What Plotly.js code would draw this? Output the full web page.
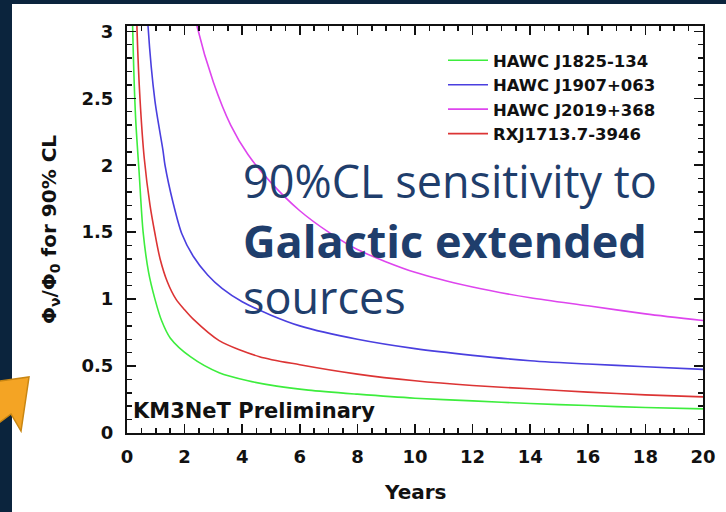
<!DOCTYPE html>
<html>
<head>
<meta charset="utf-8">
<script src="https://cdn.plot.ly/plotly-3.0.1.min.js"></script>
<style>
  html, body { margin: 0; padding: 0; background: #ffffff; }
  #chart { width: 726px; height: 512px; }
</style>
</head>
<body>
<div id="chart"></div>
<script>
// Sensitivity curves: Phi_nu / Phi_0 needed for a 90% CL detection vs. observation time
const yearsJ1825 = [0.15, 0.2, 0.3, 0.42, 0.56, 0.75, 0.97, 1.2, 1.5, 2.2, 3.2, 4.2, 5.2, 6.3, 8, 10, 12, 14, 16, 18, 20];
const fluxJ1825  = [3.8, 3.0, 2.35, 1.95, 1.5, 1.2, 1.0, 0.84, 0.71, 0.57, 0.45, 0.39, 0.35, 0.32, 0.29, 0.26, 0.24, 0.22, 0.205, 0.19, 0.18];

const yearsJ1907 = [0.62, 0.73, 0.97, 1.25, 1.32, 1.6, 1.9, 2.3, 2.8, 3.3, 4.0, 5, 6, 8, 10, 12, 14, 16, 18, 20];
const fluxJ1907  = [3.6, 3.04, 2.48, 2.11, 2.0, 1.72, 1.49, 1.32, 1.18, 1.08, 0.98, 0.88, 0.80, 0.70, 0.63, 0.58, 0.54, 0.515, 0.495, 0.475];

const yearsJ2019 = [2.2, 2.43, 3.0, 3.6, 4.2, 5.0, 6.0, 7.0, 8.0, 10, 12, 14, 16, 18, 20];
const fluxJ2019  = [3.3, 3.04, 2.62, 2.30, 2.08, 1.87, 1.66, 1.50, 1.37, 1.20, 1.09, 1.01, 0.95, 0.89, 0.84];

const yearsRXJ = [0.25, 0.35, 0.45, 0.6, 0.8, 0.97, 1.15, 1.4, 1.7, 2.0, 2.3, 3.2, 4.6, 6, 8, 10, 12, 14, 16, 18, 20];
const fluxRXJ  = [4.0, 3.0, 2.5, 2.05, 1.7, 1.49, 1.30, 1.13, 1.0, 0.92, 0.85, 0.69, 0.57, 0.51, 0.44, 0.39, 0.355, 0.33, 0.305, 0.285, 0.27];

const sourceNames = ["HAWC J1825-134", "HAWC J1907+063", "HAWC J2019+368", "RXJ1713.7-3946"];
const xTickVals = [0, 2, 4, 6, 8, 10, 12, 14, 16, 18, 20];
const xTickText = ["0", "2", "4", "6", "8", "10", "12", "14", "16", "18", "20"];
const yTickVals = [0, 0.5, 1, 1.5, 2, 2.5, 3];
const yTickText = ["0", "0.5", "1", "1.5", "2", "2.5", "3"];

const colors = ["#3ded3d", "#4a3fdf", "#de45ee", "#dc3434"];
const axisFont = { family: "DejaVu Sans", size: 18, color: "#111111", weight: "bold" };

function curve(x, y, name, color) {
  return { x: x, y: y, name: name, type: "scatter", mode: "lines",
           line: { color: color, width: 1.6, shape: "spline", smoothing: 0.8 } };
}

const traces = [
  curve(yearsJ1825, fluxJ1825, sourceNames[0], colors[0]),
  curve(yearsJ1907, fluxJ1907, sourceNames[1], colors[1]),
  curve(yearsJ2019, fluxJ2019, sourceNames[2], colors[2]),
  curve(yearsRXJ, fluxRXJ, sourceNames[3], colors[3])
];

// plot frame in pixels, used to place decorations in paper units
const L = 127, T = 26, W = 576, H = 407;
const px = v => (v - L) / W;
const py = v => (T + H - v) / H;

const navy = "#0b243d";
const arrowPts = [[-4, 381.5], [29, 377], [21, 431], [11, 414], [-4, 425]];
const arrowPath = "M" + arrowPts.map(p => px(p[0]).toFixed(4) + "," + py(p[1]).toFixed(4)).join("L") + "Z";

const textColor = "#1f3e6c";
const bigFont = { family: "Open Sans", size: 45, color: textColor };
const layout = {
  width: 726, height: 512,
  margin: { l: L, r: 726 - L - W, t: T, b: 512 - T - H },
  paper_bgcolor: "#ffffff", plot_bgcolor: "#ffffff",
  showlegend: true,
  legend: {
    x: px(443), y: py(43), xanchor: "left", yanchor: "top",
    bgcolor: "rgba(0,0,0,0)", borderwidth: 0,
    font: { family: "DejaVu Sans", size: 16.5, color: "#111111", weight: "bold" },
    itemwidth: 40, tracegroupgap: 0
  },
  xaxis: {
    range: [0, 20], tickvals: xTickVals, ticktext: xTickText,
    ticks: "inside", ticklen: 9, tickwidth: 1.5, tickcolor: "#111",
    minor: { dtick: 0.5, tick0: 0, ticks: "inside", ticklen: 5, tickwidth: 1.5, tickcolor: "#111" },
    showline: true, linewidth: 2, linecolor: "#111", mirror: "allticks",
    showgrid: false, zeroline: false, tickfont: axisFont, ticklabelstandoff: 6
  },
  yaxis: {
    range: [0, 3.04], tickvals: yTickVals, ticktext: yTickText,
    ticks: "inside", ticklen: 9, tickwidth: 1.5, tickcolor: "#111",
    minor: { dtick: 0.1, tick0: 0, ticks: "inside", ticklen: 5, tickwidth: 1.5, tickcolor: "#111" },
    showline: true, linewidth: 2, linecolor: "#111", mirror: "allticks",
    showgrid: false, zeroline: false, tickfont: axisFont, ticklabelstandoff: 8
  },
  shapes: [
    { type: "rect", xref: "paper", yref: "paper", x0: px(-4), x1: px(12), y0: py(516), y1: py(-4),
      fillcolor: navy, line: { width: 0 }, layer: "above" },
    { type: "rect", xref: "paper", yref: "paper", x0: px(-4), x1: px(730), y0: py(4), y1: py(-4),
      fillcolor: navy, line: { width: 0 }, layer: "above" },
    { type: "path", xref: "paper", yref: "paper", path: arrowPath,
      fillcolor: "#f4a424", line: { color: "#c98612", width: 1.5 }, layer: "above" }
  ],
  annotations: [
    { text: "Years", xref: "paper", yref: "paper", x: px(415), y: py(492),
      xanchor: "center", yanchor: "middle", showarrow: false,
      font: { family: "DejaVu Sans", size: 20, color: "#111", weight: "bold" } },
    { text: "Φ<sub>ν</sub>/Φ<sub>0</sub> for 90% CL", xref: "paper", yref: "paper",
      x: px(50), y: py(230), xanchor: "center", yanchor: "middle", textangle: -90, showarrow: false,
      font: { family: "DejaVu Sans", size: 20, color: "#111", weight: "bold" } },
    { text: "KM3NeT Preliminary", xref: "paper", yref: "paper", x: px(131), y: py(411),
      xanchor: "left", yanchor: "middle", showarrow: false,
      font: { family: "DejaVu Sans", size: 21, color: "#111", weight: "bold" } },
    { text: "90%CL sensitivity to", xref: "paper", yref: "paper", x: px(241), y: py(180),
      xanchor: "left", yanchor: "middle", showarrow: false, font: bigFont },
    { text: "<b>Galactic extended</b>", xref: "paper", yref: "paper", x: px(241), y: py(240),
      xanchor: "left", yanchor: "middle", showarrow: false, font: bigFont },
    { text: "sources", xref: "paper", yref: "paper", x: px(241), y: py(296),
      xanchor: "left", yanchor: "middle", showarrow: false, font: bigFont }
  ]
};

Plotly.newPlot("chart", traces, layout, { staticPlot: true, displayModeBar: false });
</script>
</body>
</html>
